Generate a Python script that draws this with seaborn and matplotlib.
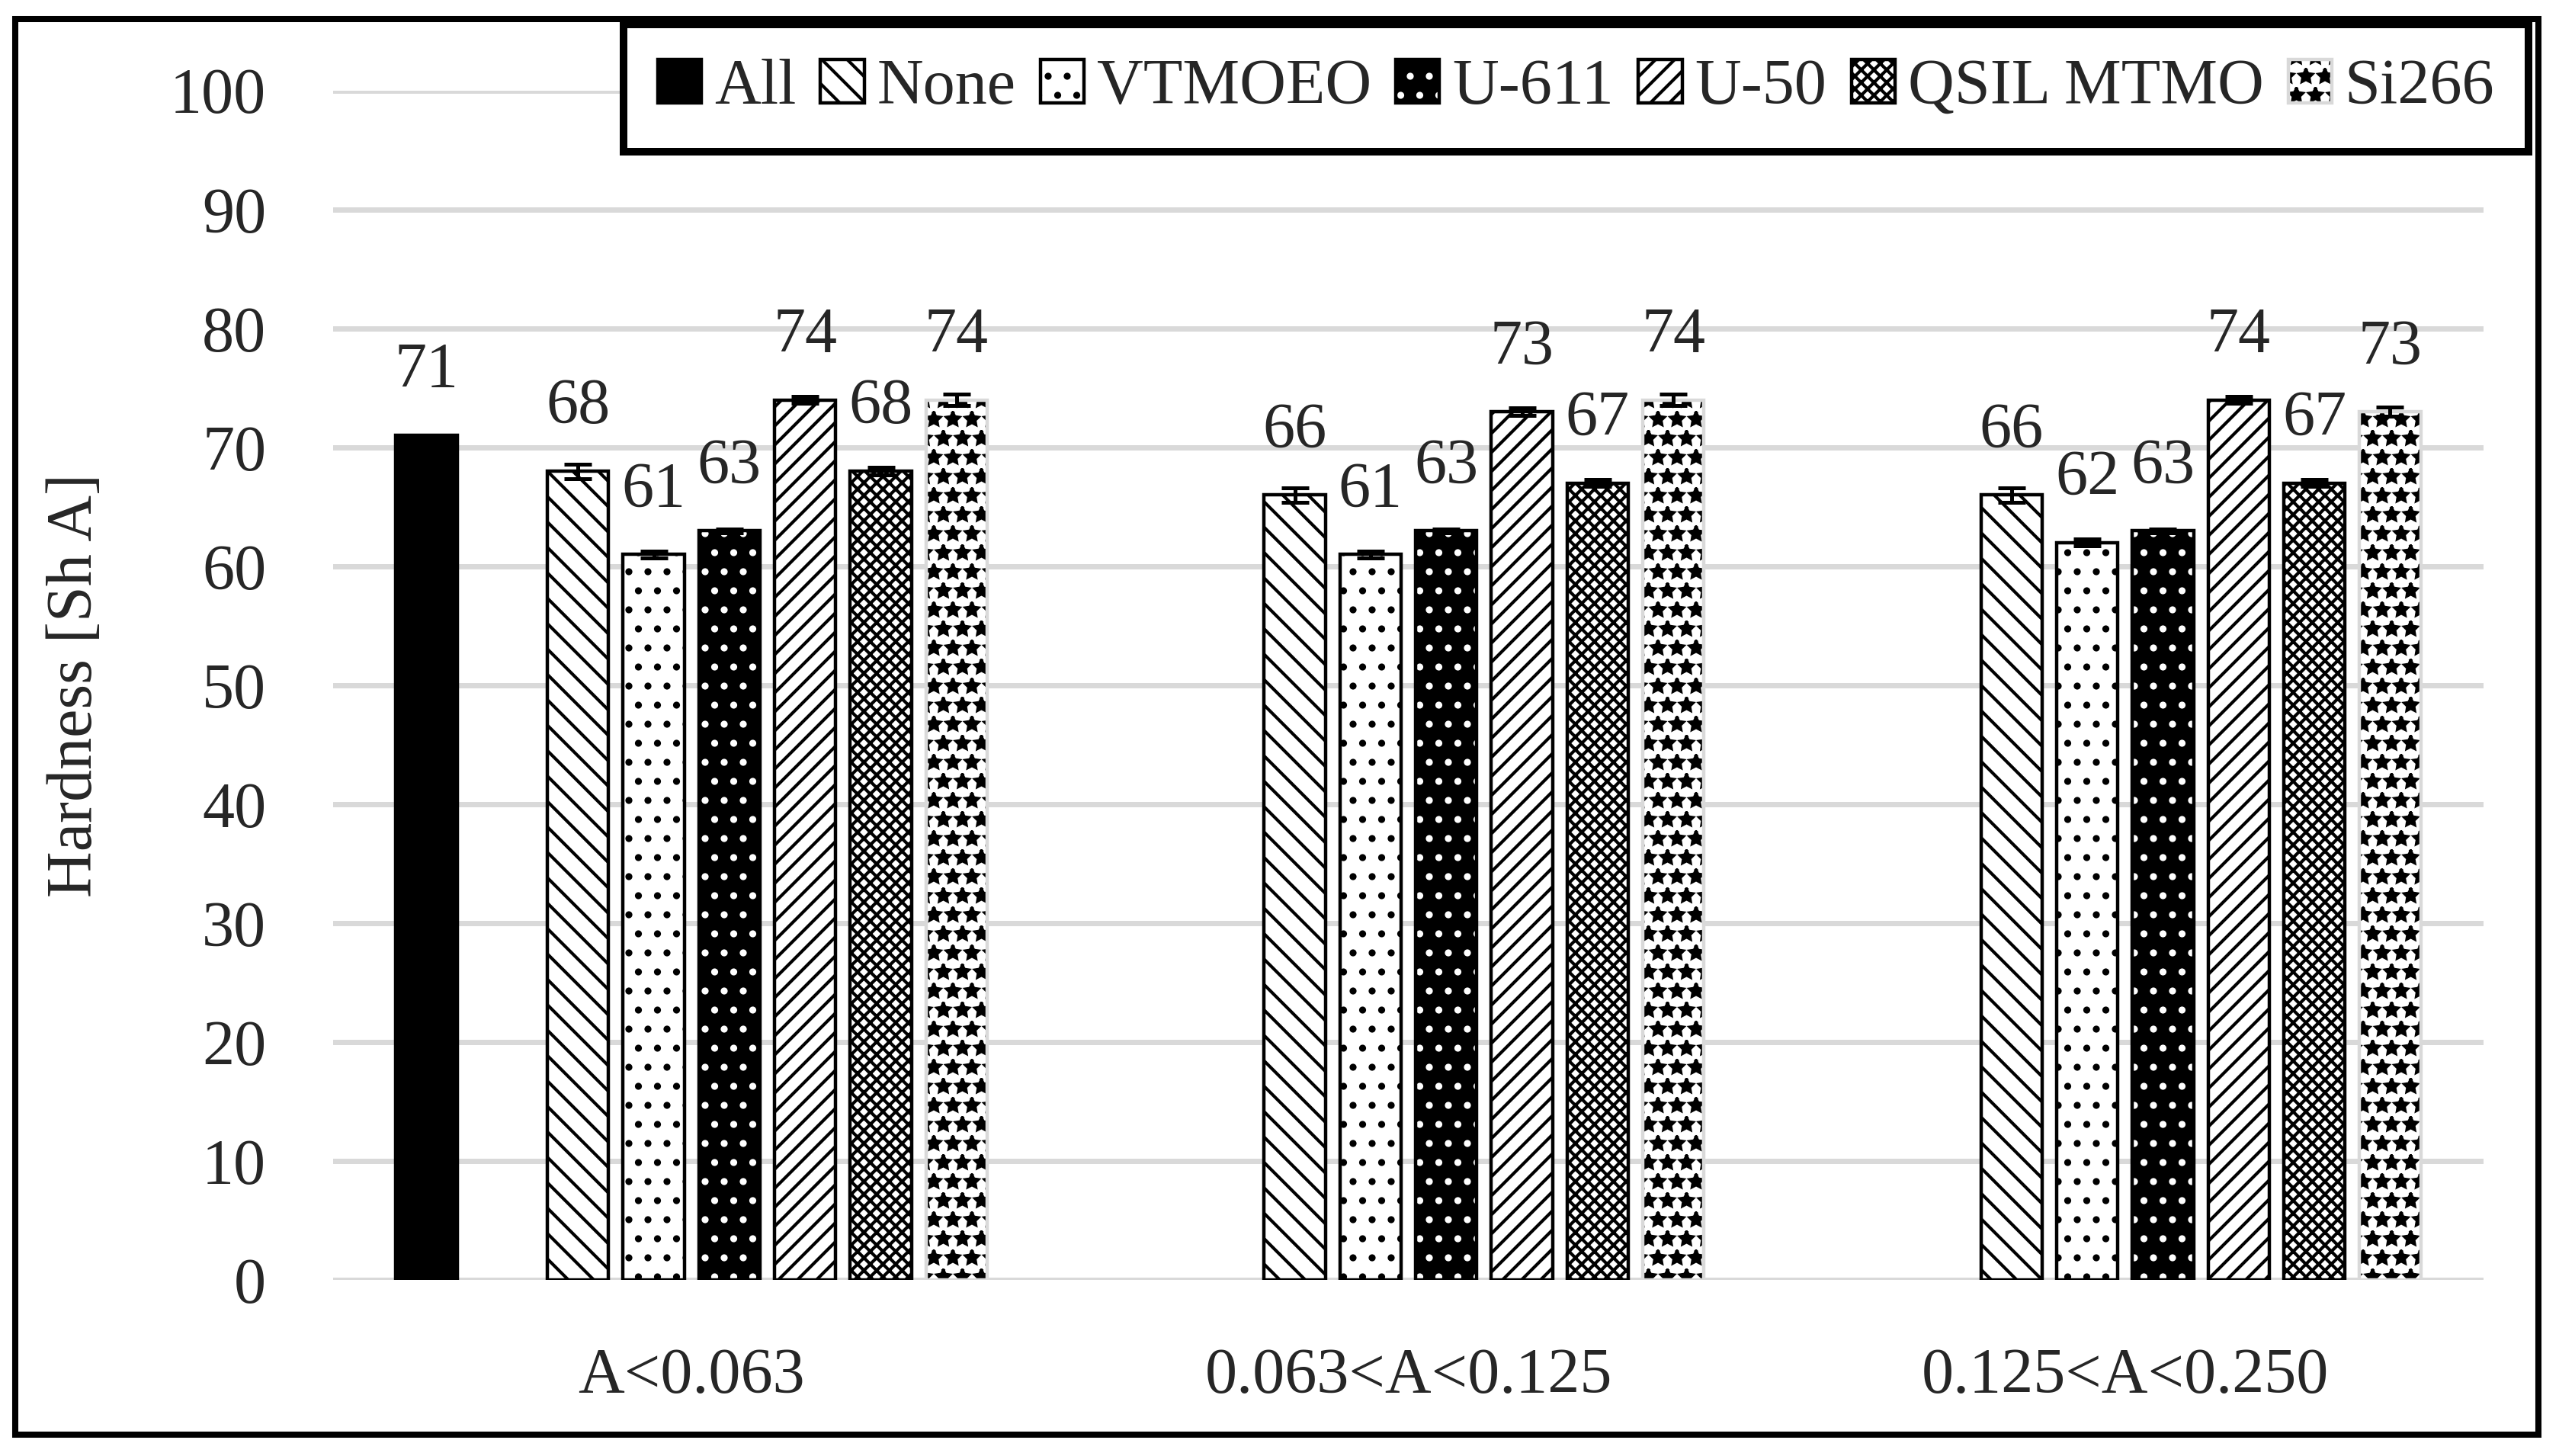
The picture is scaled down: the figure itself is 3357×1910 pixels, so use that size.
import numpy as np
import pandas as pd
import matplotlib
matplotlib.use("Agg")
import matplotlib.pyplot as plt
import matplotlib.patches as mpatches
from matplotlib.colors import to_rgba
from matplotlib.container import BarContainer
from matplotlib.legend_handler import HandlerTuple
import seaborn as sns

# data
categories = ["A<0.063", "0.063<A<0.125", "0.125<A<0.250"]
series = ["All", "None", "VTMOEO", "U-611", "U-50", "QSIL MTMO", "Si266"]

all_vals = [71, np.nan, np.nan]
none_vals = [68, 66, 66]
vtmoeo_vals = [61, 61, 62]
u611_vals = [63, 63, 63]
u50_vals = [74, 73, 74]
qsil_vals = [68, 67, 67]
si266_vals = [74, 74, 73]

all_err = [0, 0, 0]
none_err = [0.6, 0.6, 0.6]
vtmoeo_err = [0.3, 0.3, 0.3]
u611_err = [0.15, 0.15, 0.15]
u50_err = [0.3, 0.3, 0.3]
qsil_err = [0.3, 0.3, 0.3]
si266_err = [0.5, 0.5, 0.4]

yticks = list(range(0, 101, 10))

values = {"All": all_vals, "None": none_vals, "VTMOEO": vtmoeo_vals, "U-611": u611_vals,
          "U-50": u50_vals, "QSIL MTMO": qsil_vals, "Si266": si266_vals}
errors = {"All": all_err, "None": none_err, "VTMOEO": vtmoeo_err, "U-611": u611_err,
          "U-50": u50_err, "QSIL MTMO": qsil_err, "Si266": si266_err}

# face, hatch, hatch colour, border colour
styles = {
    "All": ("black", "", "black", "black"),
    "None": ("white", "\\\\\\", "black", "black"),
    "VTMOEO": ("white", "..", "black", "black"),
    "U-611": ("black", "..", "white", "black"),
    "U-50": ("white", "////", "black", "black"),
    "QSIL MTMO": ("white", "xxxxxx", "black", "black"),
    "Si266": ("white", "**", "black", "#d9d9d9"),
}

# the original chart leaves an empty slot after "All"
hue_order = ["All", " "] + series[1:]

rows = []
for s in series:
    for c, v, e in zip(categories, values[s], errors[s]):
        if not np.isnan(v):
            rows.append({"range": c, "material": s, "hardness": v, "err": e})
df = pd.DataFrame(rows)

sns.set_theme(style="white")
plt.rcParams["font.family"] = ["Liberation Serif", "DejaVu Serif"]
plt.rcParams["hatch.linewidth"] = 1.0
FS = 20.2

fig = plt.figure(figsize=(11.19, 6.367), dpi=300)
ax = fig.add_axes([0.1302, 0.1209, 0.8403, 0.8168])

palette = dict(zip(hue_order, sns.color_palette("husl", len(hue_order))))
sns.barplot(data=df, x="range", y="hardness", hue="material", order=categories,
            hue_order=hue_order, palette=palette, saturation=1, width=0.845, gap=0.19,
            errorbar=None, legend=False, ax=ax)

key_colors = {s: np.array(to_rgba(palette[s])) for s in series}

def series_of(patch):
    fc = np.array(patch.get_facecolor())
    for s, col in key_colors.items():
        if np.allclose(fc, col, atol=1e-3):
            return s
    return None

bar_containers = [c for c in ax.containers if isinstance(c, BarContainer) and len(c.patches)]
err_x, err_y, err_e = [], [], []
for cont in bar_containers:
    s = series_of(cont.patches[0])
    if s is None:
        continue
    face, hatch, hc, border = styles[s]
    for p in cont.patches:
        xc = p.get_x() + p.get_width() / 2
        ci = int(round(xc))
        p.set_facecolor(face)
        p.set_edgecolor(hc)
        p.set_linewidth(0)
        p.set_hatch(hatch)
        ax.add_patch(mpatches.Rectangle((p.get_x(), p.get_y()), p.get_width(), p.get_height(),
                                        fill=False, edgecolor=border, linewidth=1.07,
                                        zorder=p.get_zorder() + 0.1))
        if errors[s][ci] > 0:
            err_x.append(xc)
            err_y.append(p.get_height())
            err_e.append(errors[s][ci])
    ax.bar_label(cont, fmt="%.0f", padding=10.8, fontsize=FS)

ax.errorbar(err_x, err_y, yerr=err_e, fmt="none", ecolor="black", elinewidth=1.2,
            capsize=4.3, capthick=1.2, zorder=5)

ax.set_xlim(-0.5, len(categories) - 0.5)
ax.set_ylim(0, 100)
ax.set_yticks(yticks)
ax.set_axisbelow(True)
ax.yaxis.grid(True, color="#d9d9d9", linewidth=1.67)
ax.xaxis.grid(False)
for sp in ax.spines.values():
    sp.set_visible(False)
ax.tick_params(axis="y", length=0, pad=21.1, labelsize=FS)
ax.tick_params(axis="x", length=0, pad=21.2, labelsize=FS)
ax.set_xlabel("")
ax.set_ylabel("Hardness [Sh A]", fontsize=FS)
ax.yaxis.set_label_coords(-0.1195, 0.5)
ax.yaxis.label.set_verticalalignment("center")

handles = []
for s in series:
    face, hatch, hc, border = styles[s]
    fill = mpatches.Patch(facecolor=face, edgecolor=hc, hatch=hatch, linewidth=0)
    outline = mpatches.Patch(facecolor="none", edgecolor=border, linewidth=1.07)
    handles.append((fill, outline))

leg = fig.legend(handles, series, handler_map={tuple: HandlerTuple(ndivide=1, pad=0)},
                 loc="center", bbox_to_anchor=(0.2437, 0.8963, 0.7444, 0.0864),
                 mode="expand", ncol=7, frameon=True, fancybox=False, fontsize=FS,
                 handlelength=0.68, handleheight=0.68, handletextpad=0.2,
                 columnspacing=0.3, borderaxespad=0, borderpad=0.53)
leg.get_frame().set_edgecolor("black")
leg.get_frame().set_linewidth(2.4)
leg.get_frame().set_alpha(1)

fig.add_artist(mpatches.Rectangle((0.006, 0.0147), 0.986, 0.972, transform=fig.transFigure,
                                  fill=False, edgecolor="black", linewidth=1.93))

fig.savefig("out.png", dpi=300)
